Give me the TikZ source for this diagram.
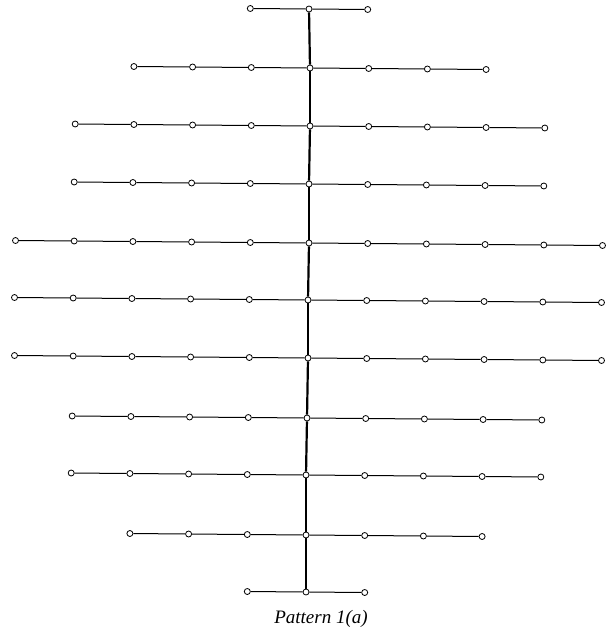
\documentclass[tikz,border=0pt]{standalone}
\usepackage{fontspec}
\setmainfont{Liberation Serif}
\begin{document}
\begin{tikzpicture}[x=1pt,y=-1pt,
  dot/.style={circle,draw,fill=white,inner sep=0pt,minimum size=6pt,line width=0.8pt},
  arm/.style={line width=1pt},
  spine/.style={line width=2.2pt}]
\useasboundingbox (0,0) rectangle (607,639);
\foreach \r/\sx/\sy/\m in {1/309/9/1, 2/310/68/3, 3/310/126/4, 4/309/184/4, 5/309/243/5, 6/308/300/5, 7/308/358/5, 8/307/418/4, 9/306/475/4, 10/306/535/3, 11/306/592/1}{
  \pgfmathtruncatemacro{\N}{2*\m}
  \foreach \i in {0,...,\N}{
    \pgfmathsetmacro{\dx}{(\i-\m)*58.7}
    \node[dot] (n\r-\i) at (\sx+\dx, \sy+0.0085*\dx) {};
  }
  \foreach \i in {1,...,\N}{
    \pgfmathtruncatemacro{\p}{\i-1}
    \draw[arm] (n\r-\p) -- (n\r-\i);
  }
}
\foreach \a/\ca/\b/\cb in {1/1/2/3, 2/3/3/4, 3/4/4/4, 4/4/5/5, 5/5/6/5, 6/5/7/5, 7/5/8/4, 8/4/9/4, 9/4/10/3, 10/3/11/1}{
  \draw[spine] (n\a-\ca) -- (n\b-\cb);
}
\node[font=\itshape\fontsize{19}{22}\selectfont, anchor=base] (cap) at (321,623) {Pattern 1(a)};
\end{tikzpicture}
\end{document}
